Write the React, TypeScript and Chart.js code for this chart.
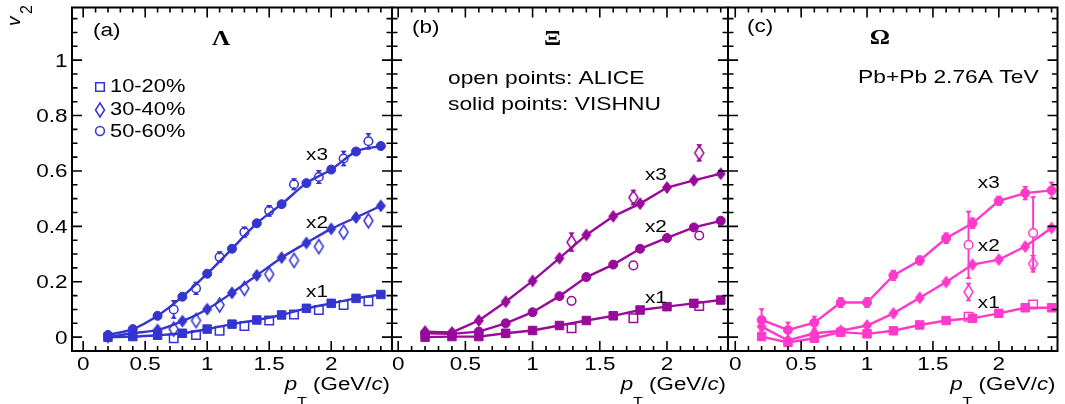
import React, { useEffect, useRef } from "react";
import { Chart, registerables } from "chart.js";

Chart.register(...registerables);

const W = 1065;
const H = 404;

// ---------- tick labels ----------
const yTickValues = [0, 0.2, 0.4, 0.6, 0.8, 1];
const yTickLabels = ["0", "0.2", "0.4", "0.6", "0.8", "1"];
const xTickValues = [0, 0.5, 1, 1.5, 2];
const xTickLabels = ["0", "0.5", "1", "1.5", "2"];

// ---------- data ----------
const modelPt = [0.2, 0.4, 0.6, 0.8, 1.0, 1.2, 1.4, 1.6, 1.8, 2.0, 2.2, 2.4];

// (a) Lambda
const lambdaModelX3 = [0.008, 0.029, 0.077, 0.146, 0.229, 0.319, 0.411, 0.48, 0.556, 0.605, 0.67, 0.69];
const lambdaModelX2 = [0.0, 0.014, 0.026, 0.058, 0.101, 0.16, 0.223, 0.287, 0.34, 0.391, 0.432, 0.474];
const lambdaModelX1 = [0.0, 0.002, 0.007, 0.014, 0.029, 0.047, 0.062, 0.08, 0.104, 0.122, 0.14, 0.154];
const lambdaDataPt = [0.73, 0.91, 1.1, 1.3, 1.5, 1.7, 1.9, 2.1, 2.3];
const lambdaDataX3 = [0.1, 0.176, 0.289, 0.379, 0.456, 0.552, 0.578, 0.645, 0.707];
const lambdaDataX3Err = [0.034, 0.024, 0.021, 0.02, 0.021, 0.022, 0.025, 0.028, 0.03];
const lambdaDataX2 = [0.029, 0.06, 0.116, 0.176, 0.227, 0.277, 0.327, 0.379, 0.42];
const lambdaDataX1 = [-0.004, 0.008, 0.023, 0.04, 0.06, 0.082, 0.098, 0.116, 0.13];

// (b) Xi
const xiModelX3 = [0.02, 0.017, 0.06, 0.128, 0.203, 0.285, 0.369, 0.436, 0.482, 0.54, 0.566, 0.59];
const xiModelX2 = [0.014, 0.012, 0.02, 0.05, 0.09, 0.148, 0.217, 0.262, 0.319, 0.358, 0.396, 0.42];
const xiModelX1 = [0.0, 0.002, 0.002, 0.014, 0.024, 0.042, 0.06, 0.077, 0.098, 0.11, 0.122, 0.134];
const xiDataPt = [1.29, 1.75, 2.24];
const xiDataX3 = [0.343, 0.504, 0.665];
const xiDataX3Err = [0.035, 0.028, 0.031];
const xiDataX2 = [0.131, 0.259, 0.367];
const xiDataX1 = [0.032, 0.068, 0.112];

// (c) Omega
const omegaModelX3 = [0.062, 0.026, 0.052, 0.125, 0.125, 0.223, 0.277, 0.357, 0.411, 0.492, 0.52, 0.53];
const omegaModelX3Err = [0.042, 0.03, 0.025, 0.02, 0.02, 0.02, 0.018, 0.021, 0.021, 0.018, 0.026, 0.031];
const omegaModelX2 = [0.038, -0.012, 0.014, 0.023, 0.042, 0.086, 0.142, 0.199, 0.262, 0.28, 0.327, 0.394];
const omegaModelX2Err = [0.016, 0.012, 0.012, 0.012, 0.012, 0.015, 0.015, 0.015, 0.021, 0.015, 0.018, 0.02];
const omegaModelX1 = [0.002, -0.019, -0.004, 0.018, 0.012, 0.023, 0.044, 0.06, 0.068, 0.086, 0.106, 0.106];
const omegaModelX1Err = [0.016, 0.01, 0.01, 0.01, 0.01, 0.01, 0.01, 0.01, 0.01, 0.01, 0.01, 0.01];
const omegaDataPt = [1.77, 2.26];
const omegaDataX3 = [0.333, 0.376];
const omegaDataX3Err = [0.123, 0.133];
const omegaDataX2 = [0.163, 0.265];
const omegaDataX2Err = [0.033, 0.032];
const omegaDataX1 = [0.074, 0.118];

const legendLabels = ["10-20%", "30-40%", "50-60%"];

// ---------- styling / layout ----------
const SANS = '"Liberation Sans", Arial, Helvetica, sans-serif';
const SERIF = '"Liberation Serif", "Times New Roman", serif';
const SX = 1.25;
const Y_MIN = -0.05;
const Y_MAX = 1.19;
const FRAME_TOP = 5.5;
const FRAME_BOTTOM = 351;

type Marker = "circle" | "square" | "diamond";
interface Series {
  pt: number[];
  v: number[];
  err?: number[];
  marker: Marker;
  filled: boolean;
  line: boolean;
}
interface Label {
  t: string;
  x: number;
  y: number;
}
interface PanelSpec {
  key: string;
  color: string;
  left: number;
  right: number;
  xMin: number;
  xMax: number;
  smooth: boolean;
  series: Series[];
  tag: Label;
  greek: Label;
  notes: Label[];
  factors: Label[];
  yLabels: boolean;
  legend: boolean;
}

const BLUE = "#3434cf";
const PURPLE = "#980a9a";
const PINK = "#ff3acb";

const panels: PanelSpec[] = [
  {
    key: "a",
    color: BLUE,
    left: 72,
    right: 392,
    xMin: -0.09,
    xMax: 2.49,
    smooth: true,
    series: [
      { pt: lambdaDataPt, v: lambdaDataX3, err: lambdaDataX3Err, marker: "circle", filled: false, line: false },
      { pt: lambdaDataPt, v: lambdaDataX2, marker: "diamond", filled: false, line: false },
      { pt: lambdaDataPt, v: lambdaDataX1, marker: "square", filled: false, line: false },
      { pt: modelPt, v: lambdaModelX3, marker: "circle", filled: true, line: true },
      { pt: modelPt, v: lambdaModelX2, marker: "diamond", filled: true, line: true },
      { pt: modelPt, v: lambdaModelX1, marker: "square", filled: true, line: true },
    ],
    tag: { t: "(a)", x: 93, y: 36 },
    greek: { t: "Λ", x: 221, y: 45 },
    notes: [],
    factors: [
      { t: "x3", x: 1.797, y: 0.638 },
      { t: "x2", x: 1.797, y: 0.394 },
      { t: "x1", x: 1.797, y: 0.145 },
    ],
    yLabels: true,
    legend: true,
  },
  {
    key: "b",
    color: PURPLE,
    left: 392,
    right: 728,
    xMin: -0.046,
    xMax: 2.454,
    smooth: false,
    series: [
      { pt: xiDataPt, v: xiDataX3, err: xiDataX3Err, marker: "diamond", filled: false, line: false },
      { pt: xiDataPt, v: xiDataX2, marker: "circle", filled: false, line: false },
      { pt: xiDataPt, v: xiDataX1, marker: "square", filled: false, line: false },
      { pt: modelPt, v: xiModelX3, marker: "diamond", filled: true, line: true },
      { pt: modelPt, v: xiModelX2, marker: "circle", filled: true, line: true },
      { pt: modelPt, v: xiModelX1, marker: "square", filled: true, line: true },
    ],
    tag: { t: "(b)", x: 412, y: 32.5 },
    greek: { t: "Ξ", x: 552.5, y: 45 },
    notes: [
      { t: "open points: ALICE", x: 448, y: 84.3 },
      { t: "solid points: VISHNU", x: 448, y: 110 },
    ],
    factors: [
      { t: "x3", x: 1.836, y: 0.566 },
      { t: "x2", x: 1.836, y: 0.381 },
      { t: "x1", x: 1.836, y: 0.123 },
    ],
    yLabels: false,
    legend: false,
  },
  {
    key: "c",
    color: PINK,
    left: 728,
    right: 1063,
    xMin: -0.055,
    xMax: 2.445,
    smooth: false,
    series: [
      { pt: omegaDataPt, v: omegaDataX3, err: omegaDataX3Err, marker: "circle", filled: false, line: false },
      { pt: omegaDataPt, v: omegaDataX2, err: omegaDataX2Err, marker: "diamond", filled: false, line: false },
      { pt: omegaDataPt, v: omegaDataX1, marker: "square", filled: false, line: false },
      { pt: modelPt, v: omegaModelX3, err: omegaModelX3Err, marker: "circle", filled: true, line: true },
      { pt: modelPt, v: omegaModelX2, err: omegaModelX2Err, marker: "diamond", filled: true, line: true },
      { pt: modelPt, v: omegaModelX1, err: omegaModelX1Err, marker: "square", filled: true, line: true },
    ],
    tag: { t: "(c)", x: 747, y: 31.5 },
    greek: { t: "Ω", x: 880, y: 44 },
    notes: [{ t: "Pb+Pb 2.76A TeV", x: 858, y: 82.7 }],
    factors: [
      { t: "x3", x: 1.84, y: 0.54 },
      { t: "x2", x: 1.84, y: 0.3125 },
      { t: "x1", x: 1.84, y: 0.105 },
    ],
    yLabels: false,
    legend: false,
  },
];

// ---------- helpers ----------
function makeDiamond(color: string, filled: boolean, w: number, h: number) {
  const c = document.createElement("canvas");
  c.width = Math.ceil(w + 4);
  c.height = Math.ceil(h + 4);
  const g = c.getContext("2d")!;
  const cx = c.width / 2;
  const cy = c.height / 2;
  g.beginPath();
  g.moveTo(cx, cy - h / 2);
  g.lineTo(cx + w / 2, cy);
  g.lineTo(cx, cy + h / 2);
  g.lineTo(cx - w / 2, cy);
  g.closePath();
  if (filled) {
    g.fillStyle = color;
    g.fill();
  } else {
    g.strokeStyle = color;
    g.lineWidth = 1.5;
    g.stroke();
  }
  return c;
}

function sText(
  ctx: CanvasRenderingContext2D,
  t: string,
  x: number,
  y: number,
  font: string,
  align: CanvasTextAlign = "left",
  sx = SX
) {
  ctx.save();
  ctx.font = font;
  ctx.fillStyle = "#000";
  ctx.textAlign = align;
  ctx.textBaseline = "alphabetic";
  ctx.translate(x, y);
  ctx.scale(sx, 1);
  ctx.fillText(t, 0, 0);
  ctx.restore();
}

function drawPtTitle(ctx: CanvasRenderingContext2D, right: number, baseline: number) {
  const sx = 1.24;
  const segs = [
    { t: "p", f: `italic 18px ${SANS}`, dy: 0 },
    { t: "T", f: `13px ${SANS}`, dy: 16 },
    { t: " (GeV/", f: `18px ${SANS}`, dy: 0 },
    { t: "c", f: `italic 18px ${SANS}`, dy: 0 },
    { t: ")", f: `18px ${SANS}`, dy: 0 },
  ];
  const widths = segs.map((s) => {
    ctx.font = s.f;
    return ctx.measureText(s.t).width * sx;
  });
  const total = widths.reduce((a, b) => a + b, 0);
  let x = right - total;
  segs.forEach((s, i) => {
    sText(ctx, s.t, x, baseline + s.dy, s.f, "left", sx);
    x += widths[i];
  });
}

function drawLegendMarker(ctx: CanvasRenderingContext2D, kind: Marker, x: number, y: number, color: string) {
  ctx.save();
  ctx.strokeStyle = color;
  ctx.lineWidth = 1.5;
  ctx.beginPath();
  if (kind === "square") ctx.rect(x - 4.3, y - 4.3, 8.6, 8.6);
  else if (kind === "circle") ctx.arc(x, y, 4.4, 0, Math.PI * 2);
  else {
    ctx.moveTo(x, y - 7);
    ctx.lineTo(x + 4.5, y);
    ctx.lineTo(x, y + 7);
    ctx.lineTo(x - 4.5, y);
    ctx.closePath();
  }
  ctx.stroke();
  ctx.restore();
}

const errorBarPlugin = {
  id: "errorBars",
  afterDatasetsDraw(chart: any) {
    const ctx: CanvasRenderingContext2D = chart.ctx;
    const ys = chart.scales.y;
    chart.data.datasets.forEach((ds: any, di: number) => {
      if (!ds.errors) return;
      const meta = chart.getDatasetMeta(di);
      ctx.save();
      ctx.strokeStyle = ds.pointBorderColor;
      ctx.fillStyle = ds.pointBorderColor;
      ctx.lineWidth = 2;
      meta.data.forEach((el: any, i: number) => {
        const e = ds.errors[i];
        if (!e) return;
        const v = ds.data[i].y;
        const top = ys.getPixelForValue(v + e);
        const bot = ys.getPixelForValue(v - e);
        const cx = el.x;
        const cy = el.y;
        const g = ds.markerHalf;
        if (top < cy - g) {
          ctx.beginPath();
          ctx.moveTo(cx, cy - g);
          ctx.lineTo(cx, top);
          ctx.stroke();
          ctx.beginPath();
          ctx.moveTo(cx - 3.2, top);
          ctx.lineTo(cx + 3.2, top);
          ctx.lineTo(cx, top + 3.5);
          ctx.closePath();
          ctx.fill();
        }
        if (bot > cy + g) {
          ctx.beginPath();
          ctx.moveTo(cx, cy + g);
          ctx.lineTo(cx, bot);
          ctx.stroke();
          ctx.beginPath();
          ctx.moveTo(cx - 3.2, bot);
          ctx.lineTo(cx + 3.2, bot);
          ctx.lineTo(cx, bot - 3.5);
          ctx.closePath();
          ctx.fill();
        }
      });
      ctx.restore();
    });
  },
};

function makeFramePlugin(p: PanelSpec) {
  return {
    id: "frame_" + p.key,
    afterDraw(chart: any) {
      const ctx: CanvasRenderingContext2D = chart.ctx;
      const a = chart.chartArea;
      const xs = chart.scales.x;
      const ys = chart.scales.y;
      ctx.save();
      ctx.strokeStyle = "#000";
      ctx.lineWidth = 1.6;
      ctx.beginPath();
      // y ticks (major every 0.2, minor every 0.05), on both sides, inward
      for (let i = -1; i <= 24; i++) {
        const v = i * 0.05;
        if (v < Y_MIN - 1e-9 || v > Y_MAX + 1e-9) continue;
        const py = ys.getPixelForValue(v);
        const len = i % 4 === 0 ? 10 : 5.5;
        ctx.moveTo(a.left, py);
        ctx.lineTo(a.left + len, py);
        ctx.moveTo(a.right, py);
        ctx.lineTo(a.right - len, py);
      }
      // x ticks (major every 0.5, minor every 0.1), bottom and top, inward
      for (let i = -1; i <= 25; i++) {
        const v = i * 0.1;
        if (v < p.xMin - 1e-9 || v > p.xMax + 1e-9) continue;
        const px = xs.getPixelForValue(v);
        const len = i % 5 === 0 ? 10 : 5;
        ctx.moveTo(px, a.bottom);
        ctx.lineTo(px, a.bottom - len);
        ctx.moveTo(px, a.top);
        ctx.lineTo(px, a.top + len);
      }
      ctx.stroke();
      ctx.lineWidth = 2;
      ctx.strokeRect(a.left, a.top, a.right - a.left, a.bottom - a.top);
      ctx.restore();

      const tickFont = `18px ${SANS}`;
      xTickValues.forEach((v, i) => {
        sText(ctx, xTickLabels[i], xs.getPixelForValue(v), 370, tickFont, "center");
      });
      if (p.yLabels) {
        yTickValues.forEach((v, i) => {
          sText(ctx, yTickLabels[i], 67.5, ys.getPixelForValue(v) + 6.4, tickFont, "right");
        });
        // v2 title (rotated)
        ctx.save();
        ctx.fillStyle = "#000";
        ctx.translate(20, 26);
        ctx.rotate(-Math.PI / 2);
        ctx.font = `italic 19px ${SANS}`;
        ctx.fillText("v", 0, 0);
        ctx.font = `16px ${SANS}`;
        ctx.fillText("2", 12, 12);
        ctx.restore();
      }
      drawPtTitle(ctx, a.right - 2, 389.5);

      sText(ctx, p.tag.t, p.tag.x, p.tag.y, `18px ${SANS}`);
      sText(ctx, p.greek.t, p.greek.x, p.greek.y, `bold 22px ${SERIF}`, "center", 1.15);
      p.notes.forEach((n) => sText(ctx, n.t, n.x, n.y, `19px ${SANS}`, "left", 1.2));
      p.factors.forEach((f) =>
        sText(ctx, f.t, xs.getPixelForValue(f.x), ys.getPixelForValue(f.y), `17px ${SANS}`, "left", 1.22)
      );

      if (p.legend) {
        const kinds: Marker[] = ["square", "diamond", "circle"];
        const my = [87, 110, 131];
        const ty = [92, 115, 137];
        kinds.forEach((k, i) => {
          drawLegendMarker(ctx, k, 100, my[i], p.color);
          sText(ctx, legendLabels[i], 110, ty[i], `17.5px ${SANS}`);
        });
      }
    },
  };
}

function buildConfig(p: PanelSpec): any {
  const dFilled = makeDiamond(p.color, true, 10, 13);
  const dOpen = makeDiamond(p.color, false, 9, 14);
  const datasets = p.series.map((s) => {
    const data = s.pt.map((x, i) => ({ x, y: s.v[i] }));
    let pointStyle: any = "circle";
    let pointRadius = s.filled ? 4.5 : 4.3;
    let markerHalf = 4.7;
    if (s.marker === "square") {
      pointStyle = "rect";
      pointRadius = 6.0;
      markerHalf = 4.5;
    } else if (s.marker === "diamond") {
      pointStyle = s.filled ? dFilled : dOpen;
      pointRadius = 5;
      markerHalf = s.filled ? 6.5 : 7;
    }
    return {
      data,
      errors: s.err,
      markerHalf,
      showLine: s.line,
      borderColor: p.color,
      borderWidth: 2.4,
      backgroundColor: p.color,
      pointStyle,
      pointRadius,
      pointHoverRadius: pointRadius,
      pointBorderColor: p.color,
      pointBackgroundColor: s.filled ? p.color : "rgba(255,255,255,0)",
      pointBorderWidth: s.filled ? 1 : 1.5,
      tension: 0,
      cubicInterpolationMode: p.smooth ? "monotone" : "default",
      fill: false,
    };
  });
  return {
    type: "scatter",
    data: { datasets },
    options: {
      animation: false,
      responsive: false,
      maintainAspectRatio: false,
      devicePixelRatio: 1,
      events: [],
      layout: {
        padding: { left: p.left, right: W - p.right, top: FRAME_TOP, bottom: H - FRAME_BOTTOM },
      },
      plugins: { legend: { display: false }, tooltip: { enabled: false } },
      scales: {
        x: { type: "linear", min: p.xMin, max: p.xMax, display: false },
        y: { type: "linear", min: Y_MIN, max: Y_MAX, display: false },
      },
    },
    plugins: [errorBarPlugin, makeFramePlugin(p)],
  };
}

export default function App() {
  const r0 = useRef<HTMLCanvasElement>(null);
  const r1 = useRef<HTMLCanvasElement>(null);
  const r2 = useRef<HTMLCanvasElement>(null);
  const refs = [r0, r1, r2];

  useEffect(() => {
    const charts = panels.map((p, i) => new Chart(refs[i].current as HTMLCanvasElement, buildConfig(p)));
    return () => charts.forEach((c) => c.destroy());
  }, []);

  return (
    <div style={{ position: "absolute", left: 0, top: 0, width: W, height: H, background: "#fff", overflow: "hidden" }}>
      {panels.map((p, i) => (
        <canvas
          key={p.key}
          ref={refs[i]}
          width={W}
          height={H}
          style={{ position: "absolute", left: 0, top: 0, width: W, height: H }}
        />
      ))}
    </div>
  );
}
